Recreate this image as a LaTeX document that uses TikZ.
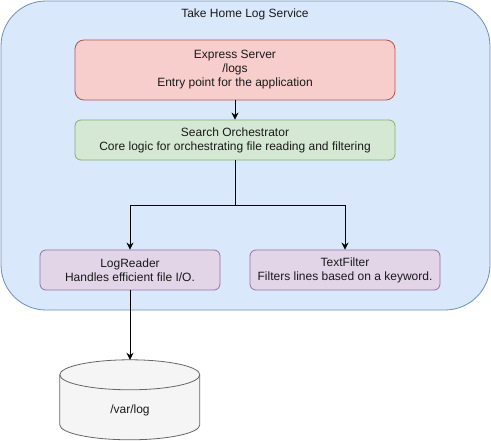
\documentclass[tikz,border=0pt]{standalone}
\usepackage{fontspec}
\setmainfont{Liberation Sans}
\usepackage{xcolor}
\usepackage{tikz}
\usetikzlibrary{arrows.meta, positioning, shapes.geometric}
\definecolor{dark}{HTML}{1A1A1A}
\definecolor{svcfill}{HTML}{DAE8FC}
\definecolor{svcdraw}{HTML}{6C8EBF}
\definecolor{entryfill}{HTML}{F8CECC}
\definecolor{entrydraw}{HTML}{B85450}
\definecolor{logicfill}{HTML}{D5E8D4}
\definecolor{logicdraw}{HTML}{82B366}
\definecolor{helperfill}{HTML}{E1D5E7}
\definecolor{helperdraw}{HTML}{9673A6}
\definecolor{diskfill}{HTML}{F5F5F5}
\definecolor{diskdraw}{HTML}{666666}
\tikzset{
    modblock/.style n args={2}{
        rectangle, rounded corners=6pt, draw=#2, fill=#1,
        font=\fontsize{12}{14}\selectfont, text=dark, align=center,
        line width=0.8pt, inner sep=2pt
    },
    svcbox/.style={
        rectangle, rounded corners=45pt, draw=svcdraw, fill=svcfill,
        line width=0.8pt
    },
    svclab/.style={
        font=\fontsize{12}{14}\selectfont, text=dark
    },
    diskbody/.style={
        rectangle, minimum width=140pt, minimum height=80pt, inner sep=0pt
    },
    diskline/.style={
        draw=diskdraw, fill=diskfill, line width=0.8pt
    },
    dataarrow/.style={
        -{Stealth[length=7pt, width=7pt]}, line width=0.8pt, color=black
    },
}

\begin{document}
\begin{tikzpicture}[x=1pt, y=-1pt]
    \useasboundingbox (0,0) rectangle (491,441);

    % Service container
    \node[svcbox, minimum width=489pt, minimum height=309pt] (service) at (245.5,155.5) {};
    \node[svclab] (svctitle) at (245,14) {Take Home Log Service};

    % Entry point and orchestration
    \node[modblock={entryfill}{entrydraw}, rounded corners=9pt, minimum width=320pt, minimum height=60pt] (express) at (235,70) {Express Server\\/logs\\Entry point for the application};
    \node[modblock={logicfill}{logicdraw}, minimum width=320pt, minimum height=40pt] (orch) at (235,140) {Search Orchestrator\\Core logic for orchestrating file reading and filtering};

    % Helpers
    \node[modblock={helperfill}{helperdraw}, minimum width=180pt, minimum height=40pt] (reader) at (130,270) {LogReader\\Handles efficient file I/O.};
    \node[modblock={helperfill}{helperdraw}, minimum width=190pt, minimum height=40pt] (filter) at (345,270) {TextFilter\\Filters lines based on a keyword.};

    % Log storage (cylinder)
    \node[diskbody] (varlog) at (130,400) {};
    \path[diskline] (varlog.north west) ++(0,15) -- ++(0,50)
        arc[start angle=180, end angle=360, x radius=70pt, y radius=15pt] -- ++(0,-50)
        arc[start angle=0, end angle=180, x radius=70pt, y radius=15pt] -- cycle;
    \draw[diskline, fill=none] (varlog.north west) ++(0,15)
        arc[start angle=180, end angle=360, x radius=70pt, y radius=15pt];
    \node[svclab] (varlogtxt) at (130,410) {/var/log};

    % Arrows
    \draw[dataarrow] (express.south) -- (orch.north);
    \draw[dataarrow] (orch.south) -- ++(0,45) -| (reader.north);
    \draw[dataarrow] (orch.south) -- ++(0,45) -| (filter.north);
    \draw[dataarrow] (reader.south) -- (varlog.north);

\end{tikzpicture}
\end{document}
